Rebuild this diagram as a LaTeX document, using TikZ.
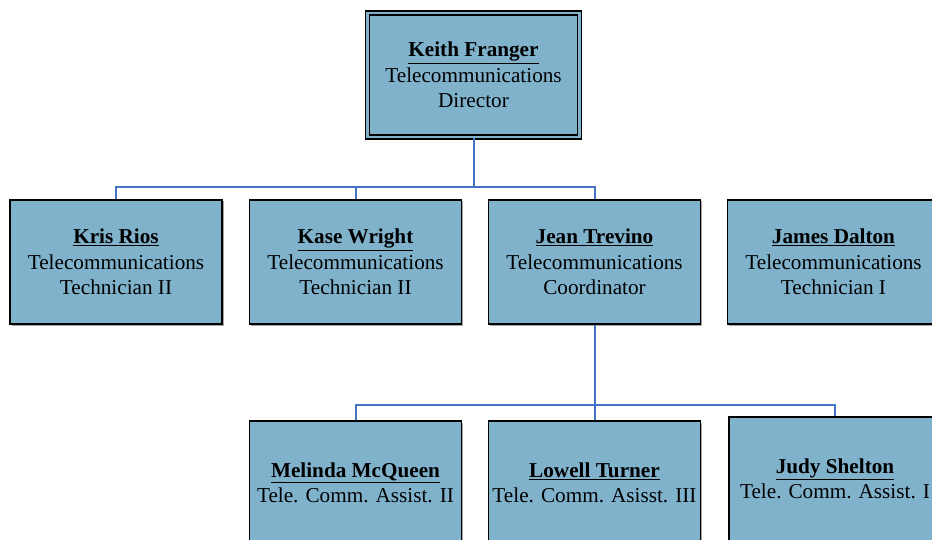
\documentclass[tikz,border=0pt]{standalone}
\usepackage{fontspec}
\setmainfont{Liberation Serif}
\usetikzlibrary{shadows}
\definecolor{boxfill}{RGB}{128,178,204}
\definecolor{linkblue}{RGB}{68,114,196}
\tikzset{
  x=1pt, y=-1pt,
  person/.style={draw=black, line width=1.5pt, fill=boxfill, minimum width=212pt, minimum height=124pt,
    align=center, inner sep=0pt, font=\fontsize{21.2}{25.5}\selectfont,
    drop shadow={shadow xshift=1.5pt, shadow yshift=-1.5pt, fill=black, opacity=0.35}},
  topbox/.style={person, draw=black, double=boxfill, line width=1.5pt, double distance=2.5pt},
  link/.style={draw=linkblue, line width=2pt}
}
\newcommand{\pname}[1]{\underline{\textbf{#1}}}
\begin{document}
\begin{tikzpicture}
\useasboundingbox (0,0) rectangle (932,540);
\clip (0,0) rectangle (932,540);
\node[topbox] (keith) at (473.5,75) {\pname{Keith Franger}\\Telecommunications\\Director};
\node[person] (kris) at (116,262) {\pname{Kris Rios}\\Telecommunications\\Technician II};
\node[person] (kase) at (355.5,262) {\pname{Kase Wright}\\Telecommunications\\Technician II};
\node[person] (jean) at (594.5,262) {\pname{Jean Trevino}\\Telecommunications\\Coordinator};
\node[person] (james) at (833.5,262) {\pname{James Dalton}\\Telecommunications\\Technician I};
\node[person] (melinda) at (355.5,483) {\pname{Melinda McQueen}\\Tele. Comm. Assist. II};
\node[person] (lowell) at (594.5,483) {\pname{Lowell Turner}\\Tele. Comm. Asisst. III};
\node[person] (judy) at (835,479) {\pname{Judy Shelton}\\Tele. Comm. Assist. I};
\coordinate (bus1) at (473.5,187);
\coordinate (bus2) at (594.5,405);
\draw[link] (keith.south) -- (bus1);
\draw[link] (kris.north) |- (bus1) -| (jean.north);
\draw[link] (kase.north) -- (kase.north |- bus1);
\draw[link] (jean.south) -- (bus2);
\draw[link] (melinda.north) |- (bus2) -| (judy.north);
\draw[link] (lowell.north) -- (bus2);
\end{tikzpicture}
\end{document}
